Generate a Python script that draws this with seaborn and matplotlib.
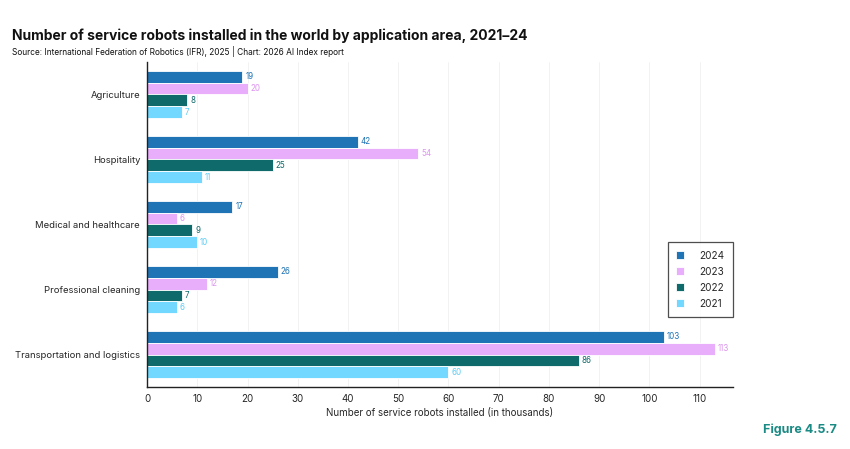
import pandas as pd
import numpy as np
import matplotlib.pyplot as plt
import seaborn as sns

# ------------------------------------------------------------ #
# data (thousands of units)
# ------------------------------------------------------------ #
areas = ['Agriculture', 'Hospitality', 'Medical and healthcare',
         'Professional cleaning', 'Transportation and logistics']
years = ['2024', '2023', '2022', '2021']
v2024 = [19, 42, 17, 26, 103]
v2023 = [20, 54, 6, 12, 113]
v2022 = [8, 25, 9, 7, 86]
v2021 = [7, 11, 10, 6, 60]

bar_colors = ['#1f74b6', '#e9aefb', '#0e6a6b', '#72d8ff']
label_colors = ['#1f74b6', '#dd95ef', '#0e6a6b', '#5ccdf5']

df = pd.DataFrame({
    'area': areas * 4,
    'year': sum([[y] * len(areas) for y in years], []),
    'value': v2024 + v2023 + v2022 + v2021,
})

sns.set_style('white')
plt.rcParams['font.family'] = ['Inter', 'DejaVu Sans']

fig = plt.figure(figsize=(8.5, 4.49), dpi=100)
ax = fig.add_axes([0.173, 0.138, 0.689, 0.724])

sns.barplot(data=df, y='area', x='value', hue='year', order=areas,
            hue_order=years, palette=bar_colors, width=0.72, saturation=1,
            edgecolor='white', linewidth=0.6, ax=ax, orient='h')

for cont, col in zip(ax.containers, label_colors):
    ax.bar_label(cont, padding=2, fontsize=5.8, color=col)

ax.set_xlim(0, 116.6)
ax.set_xticks(np.arange(0, 111, 10))
ax.set_xlabel('Number of service robots installed (in thousands)', fontsize=7, labelpad=3)
ax.set_ylabel('')
ax.tick_params(axis='x', labelsize=7, length=3, width=0.8, color='#222222', pad=2)
ax.tick_params(axis='y', labelsize=6.8, length=3, width=0.8, color='#222222', pad=2)
ax.grid(axis='x', color='#f0f0f0', linewidth=0.6)
ax.set_axisbelow(True)
for s in ['top', 'right']:
    ax.spines[s].set_visible(False)
for s in ['left', 'bottom']:
    ax.spines[s].set_color('#222222')
    ax.spines[s].set_linewidth(1.0)

leg = ax.legend(loc='lower right', bbox_to_anchor=(1.0, 0.215), borderaxespad=0,
                fontsize=7.2, frameon=True, fancybox=False, handlelength=0.8,
                handleheight=0.8, handletextpad=1.5, labelspacing=0.6,
                borderpad=0.85)
leg.get_frame().set_edgecolor('#222222')
leg.get_frame().set_linewidth(0.9)

fig.text(0.014, 0.91, 'Number of service robots installed in the world by application area, 2021\u201324',
         fontsize=10, fontweight='bold', color='#111111')
fig.text(0.014, 0.878, 'Source: International Federation of Robotics (IFR), 2025 | Chart: 2026 AI Index report',
         fontsize=6, color='#111111')
fig.text(0.985, 0.035, 'Figure 4.5.7', fontsize=9, fontweight='bold',
         color='#1a8a84', ha='right')

fig.savefig('out.png', dpi=100, facecolor='white')
